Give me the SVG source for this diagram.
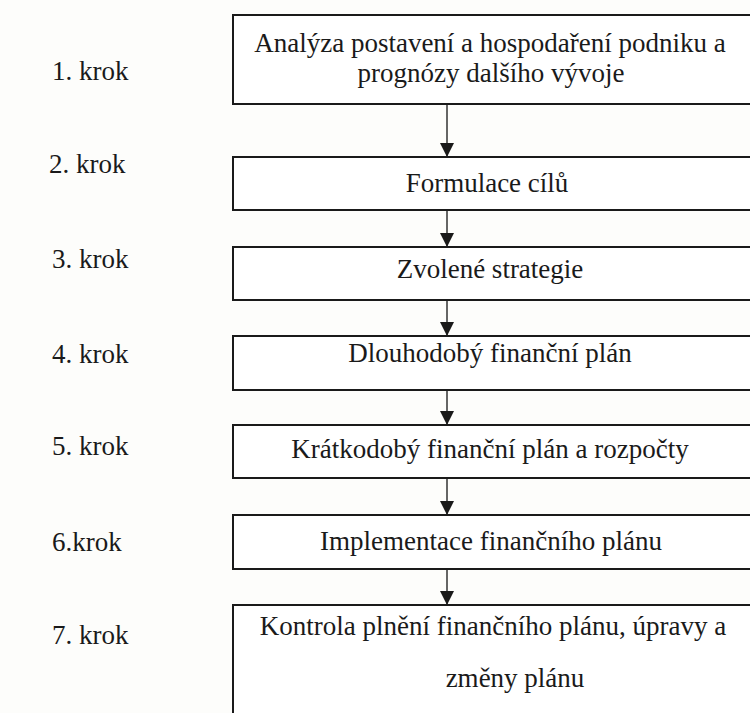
<svg xmlns="http://www.w3.org/2000/svg" width="750" height="713" viewBox="0 0 750 713">
<style>
.box{fill:#fff;stroke:#1a1a1a;stroke-width:2}
.t{font-size:27px;fill:#1a1a1a;text-anchor:middle}
.lbl{font-size:27px;fill:#1a1a1a}
.conn{stroke:#333;stroke-width:1.5;fill:none}
</style>
<defs>
<marker id="ah" markerWidth="14" markerHeight="14" viewBox="0 0 14 14" refX="14" refY="7" orient="auto" markerUnits="userSpaceOnUse">
<path d="M0,0 L14,7 L0,14 Z" fill="#1a1a1a"/>
</marker>
</defs>
<rect width="750" height="713" fill="#fdfdfb"/>
<g id="labels">
<text class="lbl" x="52" y="80" style="font-family:'Liberation Serif',serif !important">1. krok</text>
<text class="lbl" x="49" y="173" style="font-family:'Liberation Serif',serif !important">2. krok</text>
<text class="lbl" x="52" y="268" style="font-family:'Liberation Serif',serif !important">3. krok</text>
<text class="lbl" x="52" y="363" style="font-family:'Liberation Serif',serif !important">4. krok</text>
<text class="lbl" x="52" y="455" style="font-family:'Liberation Serif',serif !important">5. krok</text>
<text class="lbl" x="52" y="551" style="font-family:'Liberation Serif',serif !important">6.krok</text>
<text class="lbl" x="52" y="644" style="font-family:'Liberation Serif',serif !important">7. krok</text>
</g>
<g id="connectors">
<line class="conn" x1="447" y1="104" x2="447" y2="157" marker-end="url(#ah)"/>
<line class="conn" x1="447" y1="210" x2="447" y2="247" marker-end="url(#ah)"/>
<line class="conn" x1="447" y1="300" x2="447" y2="336" marker-end="url(#ah)"/>
<line class="conn" x1="447" y1="390" x2="447" y2="425" marker-end="url(#ah)"/>
<line class="conn" x1="447" y1="478" x2="447" y2="515" marker-end="url(#ah)"/>
<line class="conn" x1="447" y1="569" x2="447" y2="605" marker-end="url(#ah)"/>
</g>
<g id="nodes">
<g id="n1">
<rect class="box" x="233" y="15" width="530" height="89"/>
<text class="t" x="490" y="52" style="font-family:'Liberation Serif',serif !important">Analýza postavení a hospodaření podniku a</text>
<text class="t" x="491" y="82" style="font-family:'Liberation Serif',serif !important">prognózy dalšího vývoje</text>
</g>
<g id="n2">
<rect class="box" x="233" y="157" width="530" height="53"/>
<text class="t" x="487" y="192" style="font-family:'Liberation Serif',serif !important">Formulace cílů</text>
</g>
<g id="n3">
<rect class="box" x="233" y="247" width="530" height="53"/>
<text class="t" x="490" y="278" style="font-family:'Liberation Serif',serif !important">Zvolené strategie</text>
</g>
<g id="n4">
<rect class="box" x="233" y="336" width="530" height="54"/>
<text class="t" x="490" y="362" style="font-family:'Liberation Serif',serif !important">Dlouhodobý finanční plán</text>
</g>
<g id="n5">
<rect class="box" x="233" y="425" width="530" height="53"/>
<text class="t" x="490" y="458" style="font-family:'Liberation Serif',serif !important">Krátkodobý finanční plán a rozpočty</text>
</g>
<g id="n6">
<rect class="box" x="233" y="515" width="530" height="54"/>
<text class="t" x="491" y="550" style="font-family:'Liberation Serif',serif !important">Implementace finančního plánu</text>
</g>
<g id="n7">
<rect class="box" x="233" y="605" width="530" height="120"/>
<text class="t" x="493" y="635" style="font-family:'Liberation Serif',serif !important">Kontrola plnění finančního plánu, úpravy a</text>
<text class="t" x="515" y="687" style="font-family:'Liberation Serif',serif !important">změny plánu</text>
</g>
</g>
</svg>
